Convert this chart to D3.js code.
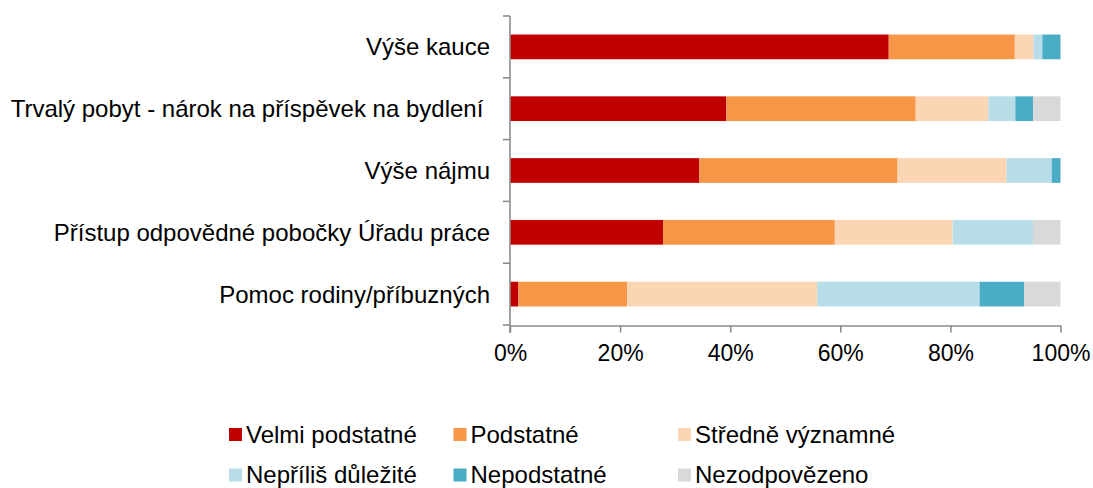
<!doctype html>
<html lang="cs">
<head>
<meta charset="utf-8">
<title>Stacked bars</title>
<script src="https://cdn.jsdelivr.net/npm/d3@7"></script>
<style>
  body { margin: 0; background: #fff; }
  svg text { font-family: "Liberation Sans", Arial, sans-serif; fill: #000; }
</style>
</head>
<body>
<svg id="chart" width="1093" height="488"></svg>
<script>
// categories, top to bottom
var categories = [
  "Výše kauce",
  "Trvalý pobyt - nárok na příspěvek na bydlení ",
  "Výše nájmu",
  "Přístup odpovědné pobočky Úřadu práce",
  "Pomoc rodiny/příbuzných"
];

// series (percent of respondents), same order as categories
var seriesNames = ["Velmi podstatné", "Podstatné", "Středně významné",
                   "Nepříliš důležité", "Nepodstatné", "Nezodpovězeno"];
var velmiPodstatne   = [68.8, 39.3, 34.4, 27.8,  1.5];
var podstatne        = [22.9, 34.4, 36.0, 31.2, 19.8];
var stredneVyznamne  = [ 3.4, 13.2, 19.8, 21.4, 34.5];
var neprilisDulezite = [ 1.6,  4.9,  8.2, 14.6, 29.5];
var nepodstatne      = [ 3.3,  3.2,  1.6,  0.0,  8.1];
var nezodpovezeno    = [ 0.0,  5.0,  0.0,  5.0,  6.6];
var seriesColors = ["#C00000", "#F79646", "#FCD5B5", "#B7DEE8", "#4BACC6", "#D9D9D9"];

var xTicks = [0, 20, 40, 60, 80, 100];

var allSeries = [velmiPodstatne, podstatne, stredneVyznamne,
                 neprilisDulezite, nepodstatne, nezodpovezeno];

// build rows for d3.stack
var rows = categories.map(function(c, i) {
  var r = { cat: c };
  seriesNames.forEach(function(s, j) { r[s] = allSeries[j][i]; });
  return r;
});

var svg = d3.select("#chart");

var x = d3.scaleLinear().domain([0, 100]).range([510, 1060.5]);
var y = d3.scaleBand().domain(categories).range([16, 325])
          .paddingInner(0.6).paddingOuter(0.3);
var color = d3.scaleOrdinal().domain(seriesNames).range(seriesColors);

var stacked = d3.stack().keys(seriesNames)(rows);

svg.append("g")
  .selectAll("g")
  .data(stacked)
  .join("g")
    .attr("fill", function(d) { return color(d.key); })
  .selectAll("rect")
  .data(function(d) { return d; })
  .join("rect")
    .attr("x", function(d) { return x(d[0]); })
    .attr("y", function(d) { return y(d.data.cat); })
    .attr("width", function(d) { return x(d[1]) - x(d[0]); })
    .attr("height", y.bandwidth());

var axisColor = "#8c8c8c";

// y axis: line plus ticks at band boundaries
var yEdges = d3.range(categories.length + 1).map(function(i) { return 16 + i * (325 - 16) / categories.length; });
var yAxis = svg.append("g");
yAxis.append("line")
  .attr("x1", 510).attr("x2", 510).attr("y1", 16).attr("y2", 333)
  .attr("stroke", axisColor).attr("stroke-width", 1.6);
yAxis.selectAll("line.tick")
  .data(yEdges)
  .join("line")
    .attr("class", "tick")
    .attr("x1", 503).attr("x2", 510)
    .attr("y1", function(d) { return d; }).attr("y2", function(d) { return d; })
    .attr("stroke", axisColor).attr("stroke-width", 1.6);

// category labels
yAxis.selectAll("text")
  .data(categories)
  .join("text")
    .attr("x", 490)
    .attr("y", function(d) { return y(d) + y.bandwidth() / 2; })
    .attr("dy", "0.35em")
    .attr("text-anchor", "end")
    .attr("xml:space", "preserve")
    .style("white-space", "pre")
    .style("font-size", "24px")
    .text(function(d) { return d; });

// x axis
var xAxis = d3.axisBottom(x).tickValues(xTicks)
  .tickFormat(function(d) { return d + "%"; })
  .tickSize(7).tickSizeOuter(0).tickPadding(12);
var gx = svg.append("g").attr("transform", "translate(0,325.5)").call(xAxis);
gx.select(".domain").attr("stroke", axisColor).attr("stroke-width", 1.6);
gx.selectAll(".tick line").attr("stroke", axisColor).attr("stroke-width", 1.6);
gx.selectAll(".tick text")
  .attr("fill", "#000")
  .style("font-family", "'Liberation Sans', Arial, sans-serif")
  .style("font-size", "23px");

// legend: 3 columns x 2 rows
var legend = svg.append("g")
  .selectAll("g")
  .data(seriesNames)
  .join("g")
    .attr("transform", function(d, i) {
      var col = i % 3, row = Math.floor(i / 3);
      return "translate(" + (229 + col * 224.5) + "," + (428 + row * 40.5) + ")";
    });
legend.append("rect")
  .attr("width", 13).attr("height", 13)
  .attr("fill", function(d) { return color(d); });
legend.append("text")
  .attr("x", 17).attr("y", 14.5)
  .style("font-size", "24px")
  .text(function(d) { return d; });
</script>
</body>
</html>
